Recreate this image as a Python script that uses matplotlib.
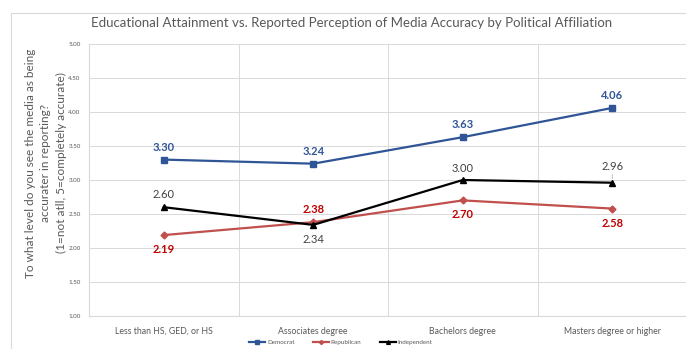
import matplotlib.pyplot as plt
from matplotlib.patches import Rectangle

plt.rcParams['font.family'] = ['Lato', 'DejaVu Sans']

categories = ['Less than HS, GED, or HS', 'Associates degree',
              'Bachelors degree', 'Masters degree or higher']
democrat = [3.30, 3.24, 3.63, 4.06]
republican = [2.19, 2.38, 2.70, 2.58]
independent = [2.60, 2.34, 3.00, 2.96]

# value label offsets in points: positive above the point, negative below
dem_off = [5, 5, 5, 5]
rep_off = [-6.5, 5, -6.5, -6.5]
ind_off = [5, -6.5, 4, 8]

grey = '#595959'
grid_col = '#D9D9D9'

fig = plt.figure(figsize=(6.86, 3.49), dpi=100)
fig.patches.append(Rectangle((11 / 686, -0.1), 1.2, (349 - 13) / 349 + 0.1,
                             transform=fig.transFigure, fill=False,
                             edgecolor=grid_col, lw=0.8))
ax = fig.add_axes([89 / 686, 1 - 316 / 349, 598 / 686, 272 / 349])

x = list(range(len(categories)))
series = [
    ('Democrat', democrat, dem_off, '#2F5597', 's', 5, '#2F5597', 'bold'),
    ('Republican', republican, rep_off, '#C0504D', 'D', 3.5, '#C00000', 'bold'),
    ('Independent', independent, ind_off, 'black', '^', 4.5, '#404040', 'normal'),
]
for name, vals, offs, col, mk, ms, tcol, tw in series:
    ax.plot(x, vals, color=col, lw=1.6, marker=mk, ms=ms, label=name, zorder=3)
    for xi, v, o in zip(x, vals, offs):
        # labels pushed further away get a thin leader line
        arrow = dict(arrowstyle='-', color='#A6A6A6', lw=0.5, shrinkA=0, shrinkB=3) if o > 6 else None
        ax.annotate(f'{v:.2f}', (xi, v), xytext=(0, o), textcoords='offset points',
                    ha='center', va='bottom' if o > 0 else 'top',
                    fontsize=8, color=tcol, fontweight=tw, arrowprops=arrow)

ax.set_xlim(-0.5, 3.5)
ax.set_ylim(1, 5)
ax.set_yticks([1 + 0.5 * i for i in range(9)])
ax.set_yticklabels([f'{1 + 0.5 * i:.2f}' for i in range(9)], fontsize=4.5, color=grey)
ax.set_xticks(x)
ax.set_xticklabels(categories, fontsize=6.3, color=grey)
ax.set_xticks([0.5, 1.5, 2.5], minor=True)
ax.tick_params(axis='both', which='both', length=0)
ax.tick_params(axis='x', pad=8)
ax.tick_params(axis='y', pad=6)
ax.grid(axis='y', color=grid_col, lw=0.7)
ax.grid(axis='x', which='minor', color=grid_col, lw=0.7)
for sp in ['top', 'right']:
    ax.spines[sp].set_visible(False)
for sp in ['left', 'bottom']:
    ax.spines[sp].set_color(grid_col)
    ax.spines[sp].set_linewidth(0.8)

fig.text(46 / 686, 1 - 163 / 349,
         'To what level do you see the media as being\naccurater in reporting?\n'
         '(1=not atll, 5=completely accurate)', rotation=90, ha='center', va='center',
         multialignment='center', fontsize=8.5, color=grey, linespacing=1.5)
fig.text(0.512, 0.935, 'Educational Attainment vs. Reported Perception of Media Accuracy '
         'by Political Affiliation', ha='center', va='center', fontsize=9.5, color=grey)

fig.legend(loc='center', bbox_to_anchor=(0.497, 0.02), ncol=3, frameon=False,
           fontsize=4.5, labelcolor=grey, handlelength=2.5, markerscale=0.6,
           columnspacing=3.0, handletextpad=0.3)

fig.savefig('out.png', dpi=100)
